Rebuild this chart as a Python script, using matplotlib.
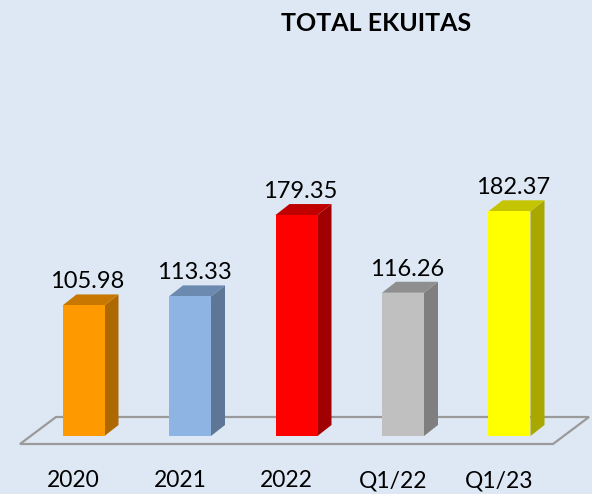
import matplotlib
matplotlib.use("Agg")
import matplotlib.pyplot as plt
from matplotlib.patches import Polygon

categories = ["2020", "2021", "2022", "Q1/22", "Q1/23"]
values = [105.98, 113.33, 179.35, 116.26, 182.37]
front_colors = ["#FF9900", "#8DB4E2", "#FF0000", "#C0C0C0", "#FFFF00"]
side_colors = ["#AD6800", "#5E7797", "#A00000", "#7F7F7F", "#A8A800"]
top_colors = ["#C87800", "#6C8AB0", "#C00000", "#8F8F8F", "#C4C400"]
title = "TOTAL EKUITAS"

W, H = 592, 494
bg = "#dee8f4"
fig = plt.figure(figsize=(W / 100, H / 100), dpi=100)
fig.patch.set_facecolor(bg)
ax = fig.add_axes([0, 0, 1, 1])
ax.set_facecolor(bg)

# pixel layout -> data scale
x0_px, step_px = 83.5, 106.5      # center of first bar, spacing
base_px, ppu = 58.0, 1.232        # y of zero (from bottom), pixels per unit
ax.set_xlim((0 - x0_px) / step_px, (W - x0_px) / step_px)
ax.set_ylim((0 - base_px) / ppu, (H - base_px) / ppu)
ax.axis("off")

def dxu(px):
    return px / step_px

def dyu(px):
    return px / ppu

# floor
fl_left, fl_right = dxu(20 - x0_px), dxu(553 - x0_px)
fl_front, fl_back = dyu(50 - base_px), dyu(77 - base_px)
fdx = dxu(36)
floor = Polygon([(fl_left, fl_front), (fl_right, fl_front),
                 (fl_right + fdx, fl_back), (fl_left + fdx, fl_back)],
                closed=True, facecolor="none", edgecolor="#9a9a9a", lw=1.6, zorder=1)
ax.add_patch(floor)

bw = dxu(42)
ddx, ddy = dxu(14), dyu(11)
for i, (v, fc, sc, tc) in enumerate(zip(values, front_colors, side_colors, top_colors)):
    l, r = i - bw / 2, i + bw / 2
    side = Polygon([(r, 0), (r + ddx, ddy), (r + ddx, v + ddy), (r, v)],
                   closed=True, facecolor=sc, edgecolor="none", zorder=2)
    top = Polygon([(l, v), (r, v), (r + ddx, v + ddy), (l + ddx, v + ddy)],
                  closed=True, facecolor=tc, edgecolor="none", zorder=2)
    ax.add_patch(side)
    ax.add_patch(top)
ax.bar(range(len(values)), values, width=bw, color=front_colors, zorder=3)

for i, v in enumerate(values):
    ax.text(i + dxu(4), v + dyu(17), f"{v:.2f}", ha="center", va="baseline",
            fontsize=17, family="Lato", color="#000000", zorder=4)
    ax.text(i - dxu(10), dyu(7 - base_px), categories[i], ha="center", va="baseline",
            fontsize=16.5, family="Lato", color="#000000", zorder=4)

fig.text(376 / W, 1 - 31 / H, title, ha="center", va="baseline",
         fontsize=18, family="Lato", fontweight="bold", color="#000000")

fig.savefig("out.png", dpi=100, facecolor=fig.get_facecolor())
